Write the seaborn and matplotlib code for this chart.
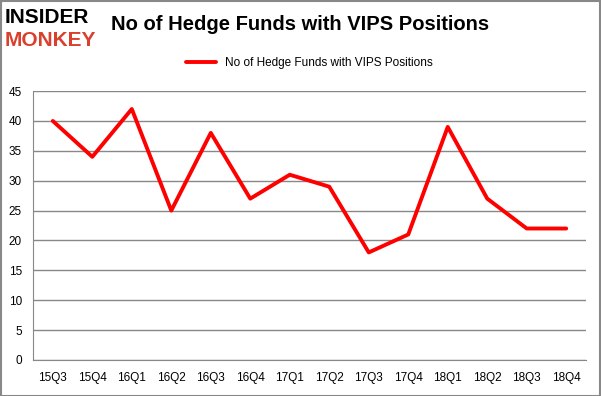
import pandas as pd
import seaborn as sns
import matplotlib.pyplot as plt
from matplotlib.patches import Rectangle

# Data
quarters = ["15Q3", "15Q4", "16Q1", "16Q2", "16Q3", "16Q4", "17Q1",
            "17Q2", "17Q3", "17Q4", "18Q1", "18Q2", "18Q3", "18Q4"]
funds = [40, 34, 42, 25, 38, 27, 31, 29, 18, 21, 39, 27, 22, 22]
series_name = "No of Hedge Funds with VIPS Positions"

data = pd.DataFrame({"quarter": quarters, "funds": funds})
data["pos"] = range(len(quarters))

sns.set_style("white")
plt.rcParams["font.family"] = ["Liberation Sans", "DejaVu Sans"]

fig = plt.figure(figsize=(6.01, 3.96), dpi=100)
ax = fig.add_axes([0.055, 0.091, 0.92, 0.679])

sns.lineplot(x="pos", y="funds", data=data, ax=ax, color="#ff0000",
             linewidth=2.8, label=series_name)

# axes styling, Excel look
ax.set_xlim(-0.5, len(quarters) - 0.5)
ax.set_ylim(0, 45)
ax.set_yticks(range(0, 46, 5))
ax.set_xticks(range(len(quarters)))
ax.set_xticklabels(quarters)
ax.set_xticks([i - 0.5 for i in range(len(quarters) + 1)], minor=True)
ax.tick_params(axis="x", which="major", length=0, pad=9, labelsize=8.5,
               labelcolor="black")
ax.tick_params(axis="x", which="minor", length=5, color="#888888", direction="out")
ax.tick_params(axis="y", length=5, color="#888888", labelsize=8.5, pad=3,
               labelcolor="black")
ax.yaxis.grid(True, color="#888888", linewidth=1)
ax.set_axisbelow(True)
for side in ["top", "right"]:
    ax.spines[side].set_visible(False)
ax.spines["left"].set_color("#888888")
ax.spines["bottom"].set_color("#888888")
ax.set_xlabel("")
ax.set_ylabel("")

leg = ax.legend(loc="center", bbox_to_anchor=(0.5, 1.105), frameon=False,
                fontsize=8.5, handlelength=2.5, borderaxespad=0)
for t in leg.get_texts():
    t.set_color("black")

# title and logo
fig.text(0.5, 0.937, series_name, ha="center", va="center",
         fontsize=14.5, fontweight="bold", color="black")
fig.text(0.008, 0.955, "INSIDER", ha="left", va="center", fontsize=15,
         fontweight="black", color="black")
fig.text(0.008, 0.898, "MONKEY", ha="left", va="center", fontsize=15,
         fontweight="black", color="#d9412e")

# outer border
fig.patches.append(Rectangle((0.001, 0.001), 0.997, 0.997, transform=fig.transFigure,
                             fill=False, edgecolor="#888888", linewidth=1.5))

fig.savefig("out.png", dpi=100)
